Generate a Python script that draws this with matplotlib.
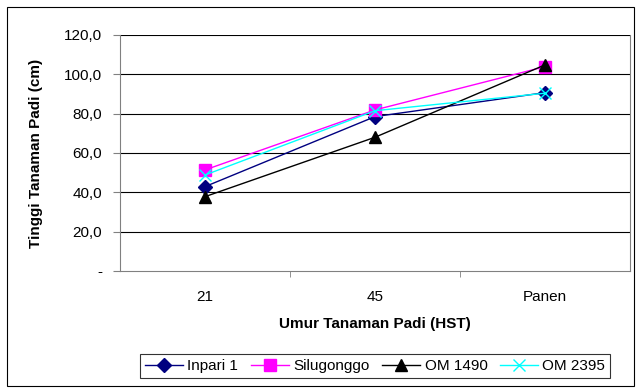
import numpy as np
import matplotlib
matplotlib.use("Agg")
from matplotlib import pyplot as plt
from matplotlib.patches import Rectangle

plt.rcParams["font.family"] = ["Liberation Sans", "DejaVu Sans"]

# Plant height per growth stage for each rice variety
stages = ["21", "45", "Panen"]
inpari_1 = [42.9, 78.5, 90.7]
silugonggo = [51.4, 81.9, 103.9]
om_1490 = [37.8, 68.0, 104.8]
om_2395 = [48.8, 81.5, 90.4]

y_ticks = [0, 20, 40, 60, 80, 100, 120]


def fmt_tick(v):
    if v == 0:
        return "-"
    return f"{v:.1f}".replace(".", ",")


fig = plt.figure(figsize=(6.36, 3.88), dpi=100)
ax = fig.add_axes([120 / 636, 1 - 271 / 388, 510 / 636, 236 / 388])

x = np.arange(len(stages))
ax.plot(x, inpari_1, color="#000080", lw=1, marker="D", ms=7, label="Inpari 1")
ax.plot(x, silugonggo, color="#FF00FF", lw=1, marker="s", ms=8, label="Silugonggo")
ax.plot(x, om_1490, color="black", lw=1, marker="^", ms=9, label="OM 1490")
ax.plot(x, om_2395, color="#00FFFF", lw=1, marker="x", ms=8, mew=1, label="OM 2395")

ax.set_xlim(-0.5, 2.5)
ax.set_ylim(0, 120)
ax.set_yticks(y_ticks)
ax.set_yticklabels([fmt_tick(v) for v in y_ticks], fontsize=11)
ax.set_xticks(x)
ax.set_xticklabels(stages, fontsize=11)
ax.set_xticks([0.5, 1.5], minor=True)
ax.tick_params(axis="x", which="major", length=0, pad=14)
ax.tick_params(axis="x", which="minor", length=4, color="#808080")
ax.tick_params(axis="y", length=5, color="#808080", direction="out", pad=8)

for v in y_ticks[1:]:
    ax.axhline(v, color="black", lw=0.8, zorder=0)

for s in ["left", "bottom", "right"]:
    ax.spines[s].set_color("#808080")
ax.spines["top"].set_visible(False)

ax.set_xlabel("Umur Tanaman Padi (HST)", fontsize=11, fontweight="bold", labelpad=9)
ax.set_ylabel("Tinggi Tanaman Padi (cm)", fontsize=11, fontweight="bold", labelpad=15)

leg = fig.legend(loc="center", bbox_to_anchor=(375 / 636, 1 - 366 / 388), ncol=4,
                 fontsize=11, frameon=True, fancybox=False, edgecolor="black",
                 handlelength=2.5, columnspacing=0.8, handletextpad=0.3,
                 borderpad=0.3)
leg.get_frame().set_linewidth(0.8)

fig.patches.append(Rectangle((7 / 636, 2 / 388), 627 / 636, 379 / 388,
                             transform=fig.transFigure, fill=False,
                             edgecolor="black", lw=0.8))

fig.savefig("out.png", dpi=100)
